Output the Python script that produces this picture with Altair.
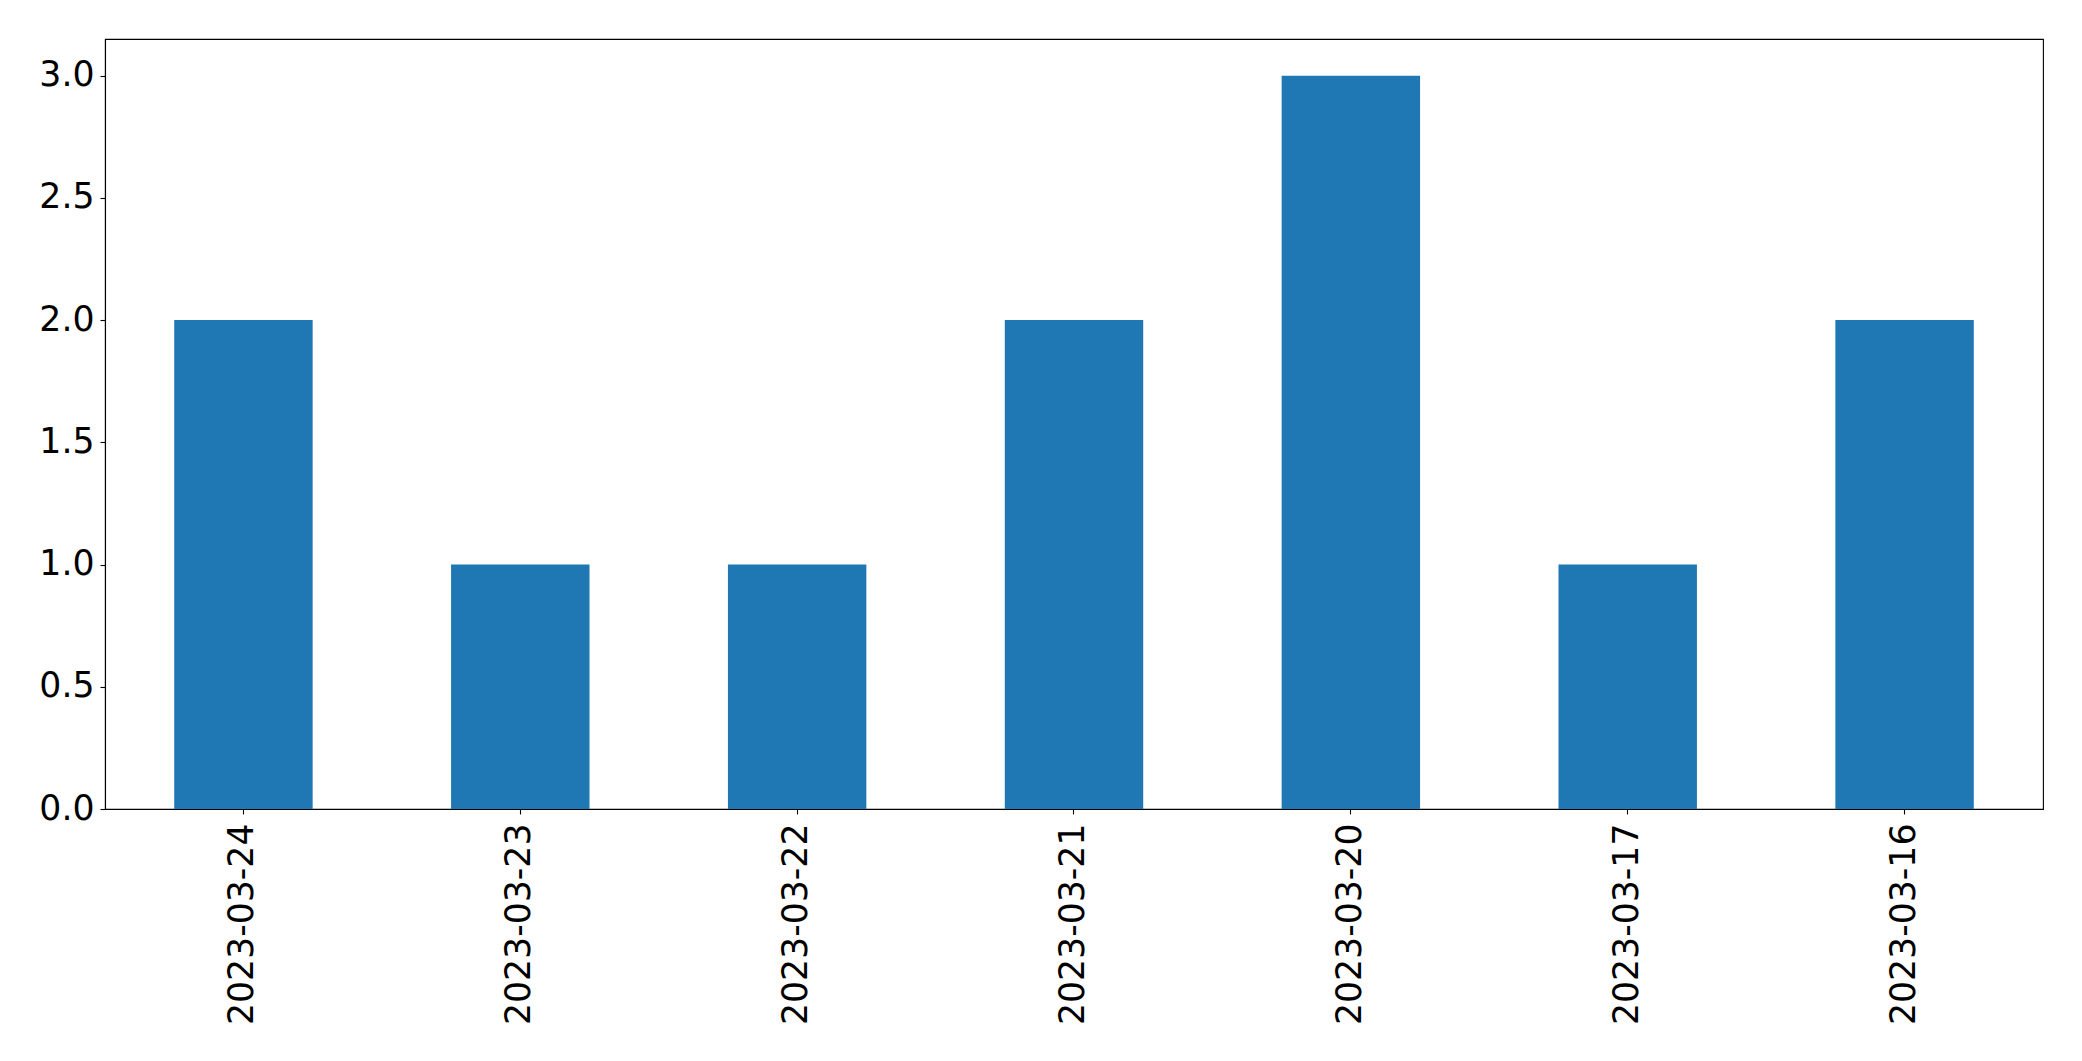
import altair as alt
import pandas as pd

dates = ["2023-03-24", "2023-03-23", "2023-03-22", "2023-03-21", "2023-03-20", "2023-03-17", "2023-03-16"]
counts = [2, 1, 1, 2, 3, 1, 2]

df = pd.DataFrame({"date": dates, "count": counts})

chart = alt.Chart(df).mark_bar(color="#1f77b4").encode(
    x=alt.X("date:N", sort=dates, title=None,
            scale=alt.Scale(paddingInner=0.5, paddingOuter=0.25),
            axis=alt.Axis(labelAngle=-90, labelAlign="right", labelBaseline="middle",
                          labelPadding=9, tickSize=5, labelFontSize=34.7, labelLimit=500)),
    y=alt.Y("count:Q", title=None,
            scale=alt.Scale(domain=[0, 3.15], nice=False),
            axis=alt.Axis(values=[0, 0.5, 1, 1.5, 2, 2.5, 3], format=".1f",
                          tickSize=5, labelPadding=6, labelFontSize=34.7, grid=False)),
).properties(
    width=1938, height=770,
    autosize=alt.AutoSizeParams(type="none"),
    padding={"left": 97, "top": 31, "right": 30, "bottom": 240},
).configure_view(
    stroke="black", strokeWidth=1.1
).configure_axis(
    domainColor="black", tickColor="black", labelColor="black",
    labelFont="DejaVu Sans", domainWidth=1.1, tickWidth=1.1, grid=False
)

chart.save("out.html", embed_options={"renderer": "svg", "actions": False})
